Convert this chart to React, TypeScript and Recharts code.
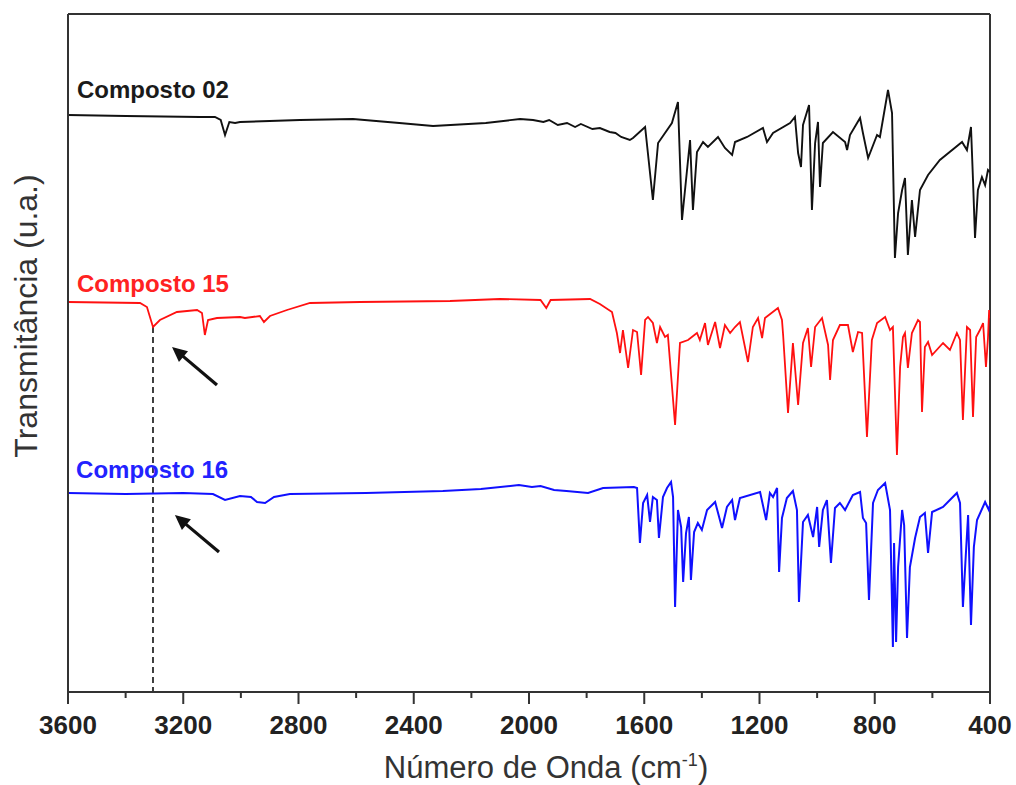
import React from 'react';
import { LineChart, Line, XAxis, YAxis, ReferenceLine, ReferenceDot } from 'recharts';

const FONT = '"Liberation Sans", Arial, Helvetica, sans-serif';

// x ticks (wavenumber, cm^-1); labels only on multiples of 400
const xTicks = [3600, 3400, 3200, 3000, 2800, 2600, 2400, 2200, 2000, 1800, 1600, 1400, 1200, 1000, 800, 600, 400];

// [wavenumber, transmittance (a.u., offset per spectrum)]
const composto02: [number, number][] = [
  [3600, 575], [3400, 574], [3142, 573], [3090, 573], [3070, 570], [3055, 555], [3040, 568], [3020, 567],
  [3003, 568], [2900, 569], [2795, 570], [2611, 571], [2450, 567], [2333, 564], [2150, 567], [2031, 571],
  [1986, 570], [1950, 568], [1930, 570], [1900, 565], [1868, 567], [1840, 563], [1820, 566], [1780, 561],
  [1754, 562], [1720, 558], [1700, 557], [1680, 553], [1650, 550], [1639, 552], [1597, 563], [1570, 490],
  [1552, 547], [1504, 567], [1483, 588], [1469, 470], [1441, 550], [1431, 480], [1417, 538], [1396, 548],
  [1379, 543], [1344, 553], [1320, 542], [1295, 535], [1285, 548], [1243, 553], [1188, 562], [1174, 548],
  [1153, 557], [1094, 567], [1077, 573], [1066, 537], [1056, 523], [1049, 565], [1028, 585], [1018, 480],
  [1007, 547], [997, 568], [990, 503], [980, 547], [945, 558], [903, 548], [896, 540], [886, 555],
  [851, 572], [841, 557], [823, 532], [792, 555], [782, 553], [754, 600], [740, 577], [730, 432],
  [719, 477], [705, 500], [695, 512], [685, 435], [671, 490], [660, 453], [643, 500], [615, 515],
  [574, 530], [497, 548], [480, 540], [466, 563], [459, 510], [452, 452], [442, 500], [428, 513],
  [417, 505], [407, 520], [400, 518],
];

const composto15: [number, number][] = [
  [3600, 388], [3350, 387], [3326, 383], [3305, 363], [3281, 370], [3222, 378], [3152, 380], [3135, 377],
  [3125, 355], [3114, 370], [3083, 372], [3003, 373], [2986, 372], [2934, 374], [2920, 368], [2899, 374],
  [2840, 380], [2760, 387], [2587, 388], [2274, 389], [2101, 391], [1960, 390], [1940, 382], [1925, 390],
  [1788, 391], [1754, 386], [1712, 378], [1695, 357], [1684, 337], [1674, 360], [1656, 322], [1639, 360],
  [1625, 358], [1611, 315], [1597, 370], [1587, 373], [1570, 367], [1556, 347], [1545, 363], [1528, 353],
  [1518, 355], [1493, 265], [1476, 347], [1448, 350], [1417, 357], [1407, 350], [1389, 367], [1379, 345],
  [1354, 368], [1337, 342], [1320, 365], [1302, 357], [1285, 363], [1268, 368], [1240, 328], [1223, 363],
  [1205, 372], [1191, 352], [1181, 372], [1136, 382], [1122, 370], [1118, 355], [1101, 277], [1084, 347],
  [1066, 285], [1049, 347], [1032, 362], [1021, 323], [1007, 363], [983, 372], [962, 345], [955, 310],
  [945, 350], [921, 365], [893, 365], [876, 338], [858, 358], [844, 357], [827, 253], [810, 350],
  [792, 367], [764, 373], [747, 360], [737, 363], [723, 235], [712, 323], [702, 353], [695, 357],
  [685, 322], [671, 357], [650, 370], [643, 368], [636, 278], [626, 343], [615, 348], [601, 335],
  [563, 347], [539, 340], [515, 357], [504, 350], [494, 270], [480, 363], [469, 360], [459, 273],
  [448, 353], [435, 360], [424, 367], [414, 323], [407, 352], [403, 380], [400, 372],
];

const composto16: [number, number][] = [
  [3600, 197], [3400, 196], [3200, 197], [3097, 196], [3055, 190], [3003, 194], [2965, 193], [2944, 188],
  [2916, 187], [2885, 193], [2830, 196], [2566, 197], [2299, 199], [2167, 201], [2035, 205], [1990, 203],
  [1960, 204], [1913, 200], [1870, 199], [1795, 197], [1743, 202], [1636, 203], [1625, 202], [1615, 147],
  [1604, 187], [1590, 195], [1580, 168], [1570, 193], [1556, 190], [1549, 152], [1535, 193], [1521, 202],
  [1507, 208], [1500, 193], [1493, 83], [1483, 180], [1472, 163], [1465, 108], [1455, 157], [1445, 173],
  [1438, 110], [1427, 158], [1414, 167], [1400, 160], [1382, 180], [1354, 188], [1330, 162], [1313, 183],
  [1295, 190], [1285, 170], [1268, 192], [1198, 198], [1177, 170], [1164, 197], [1153, 193], [1139, 202],
  [1132, 118], [1122, 172], [1105, 192], [1084, 199], [1070, 180], [1063, 88], [1049, 168], [1032, 175],
  [1014, 153], [1000, 183], [993, 143], [980, 180], [966, 190], [952, 127], [938, 182], [921, 187],
  [903, 180], [876, 195], [851, 198], [841, 172], [830, 167], [820, 90], [806, 187], [789, 200],
  [764, 207], [747, 180], [737, 43], [733, 147], [726, 48], [719, 123], [705, 180], [698, 165],
  [688, 52], [678, 123], [660, 152], [643, 173], [626, 177], [615, 137], [601, 178], [563, 183],
  [515, 197], [504, 187], [494, 83], [483, 140], [476, 175], [466, 65], [456, 143], [445, 170],
  [417, 188], [404, 180], [400, 185],
];

// annotation anchors [wavenumber, value]
const labelAnchors = {
  c02: [3569, 592],
  c15: [3569, 398],
  c16: [3572, 212],
};
const dashedLineWn = 3305;
const arrow15: [number, number][] = [[3083, 305], [3239, 343]];
const arrow16: [number, number][] = [[3076, 138], [3229, 175]];

const toRows = (pts: [number, number][]) => pts.map(([wn, t]) => ({ wn, t }));

const XTick = (props: any) => {
  const { x, y, payload } = props;
  const major = payload.value % 400 === 0;
  return (
    <g>
      <line x1={x} x2={x} y1={y} y2={y + (major ? 12 : 6)} stroke="#333" strokeWidth={2} />
      {major && (
        <text x={x} y={y + 42} textAnchor="middle" fontSize={26} fontWeight="bold" fill="#222" fontFamily={FONT}>
          {payload.value}
        </text>
      )}
    </g>
  );
};

const Arrow = (props: any) => {
  const { x1, y1, x2, y2 } = props;
  const dx = x2 - x1;
  const dy = y2 - y1;
  const len = Math.sqrt(dx * dx + dy * dy);
  const ux = dx / len;
  const uy = dy / len;
  const hl = 15;
  const hw = 7;
  const bx = x2 - ux * hl;
  const by = y2 - uy * hl;
  return (
    <g>
      <line x1={x1} y1={y1} x2={bx + ux * 2} y2={by + uy * 2} stroke="#111" strokeWidth={3.2} />
      <polygon
        points={`${x2},${y2} ${bx - uy * hw},${by + ux * hw} ${bx + uy * hw},${by - ux * hw}`}
        fill="#111"
      />
    </g>
  );
};

const makeLabel = (text: string, color: string) => (p: any) => (
  <text x={p.cx} y={p.cy} fontSize={24} fontWeight="bold" fill={color} fontFamily={FONT}>
    {text}
  </text>
);

export default function App() {
  return (
    <div style={{ position: 'absolute', left: 0, top: 0, width: 1016, height: 785, background: '#fff' }}>
      <LineChart width={1016} height={785} margin={{ top: 14, right: 26, bottom: 0, left: 0 }}>
        <XAxis
          dataKey="wn"
          type="number"
          domain={[400, 3600]}
          reversed
          ticks={xTicks}
          interval={0}
          tickSize={0}
          tickMargin={0}
          tickLine={false}
          tick={<XTick />}
          height={93}
          axisLine={{ stroke: '#333', strokeWidth: 2 }}
          allowDataOverflow
          label={{
            content: (p: any) => {
              const vb = p.viewBox;
              return (
                <text
                  x={vb.x + vb.width / 2 + 17}
                  y={vb.y + 86}
                  textAnchor="middle"
                  fontSize={31}
                  fill="#333"
                  fontFamily={FONT}
                >
                  Número de Onda (cm
                  <tspan dy={-12} fontSize={18}>-1</tspan>
                  <tspan dy={12}>)</tspan>
                </text>
              );
            },
          }}
        />
        <YAxis
          type="number"
          domain={[-2, 676]}
          width={68}
          tick={false}
          tickLine={false}
          axisLine={{ stroke: '#333', strokeWidth: 2 }}
          allowDataOverflow
          label={{
            content: (p: any) => {
              const vb = p.viewBox;
              const cx = 26;
              const cy = vb.y + vb.height / 2 - 37;
              return (
                <text
                  x={cx}
                  y={cy}
                  transform={`rotate(-90 ${cx} ${cy})`}
                  textAnchor="middle"
                  dominantBaseline="central"
                  fontSize={32}
                  fill="#333"
                  fontFamily={FONT}
                >
                  Transmitância (u.a.)
                </text>
              );
            },
          }}
        />
        <ReferenceLine y={676} stroke="#333" strokeWidth={2} />
        <ReferenceLine x={400} stroke="#333" strokeWidth={2} />
        <ReferenceLine
          segment={[{ x: dashedLineWn, y: 363 }, { x: dashedLineWn, y: -2 }]}
          stroke="#111"
          strokeWidth={1.6}
          strokeDasharray="6 4"
        />
        <Line data={toRows(composto02)} dataKey="t" stroke="#111" strokeWidth={1.9} dot={false} isAnimationActive={false} />
        <Line data={toRows(composto15)} dataKey="t" stroke="#ff1010" strokeWidth={1.8} dot={false} isAnimationActive={false} />
        <Line data={toRows(composto16)} dataKey="t" stroke="#1010ff" strokeWidth={2} dot={false} isAnimationActive={false} />
        <ReferenceLine
          segment={[{ x: arrow15[0][0], y: arrow15[0][1] }, { x: arrow15[1][0], y: arrow15[1][1] }]}
          shape={Arrow}
        />
        <ReferenceLine
          segment={[{ x: arrow16[0][0], y: arrow16[0][1] }, { x: arrow16[1][0], y: arrow16[1][1] }]}
          shape={Arrow}
        />
        <ReferenceDot x={labelAnchors.c02[0]} y={labelAnchors.c02[1]} r={0} shape={makeLabel('Composto 02', '#1a1a1a')} />
        <ReferenceDot x={labelAnchors.c15[0]} y={labelAnchors.c15[1]} r={0} shape={makeLabel('Composto 15', '#ff2222')} />
        <ReferenceDot x={labelAnchors.c16[0]} y={labelAnchors.c16[1]} r={0} shape={makeLabel('Composto 16', '#2222ff')} />
      </LineChart>
    </div>
  );
}
